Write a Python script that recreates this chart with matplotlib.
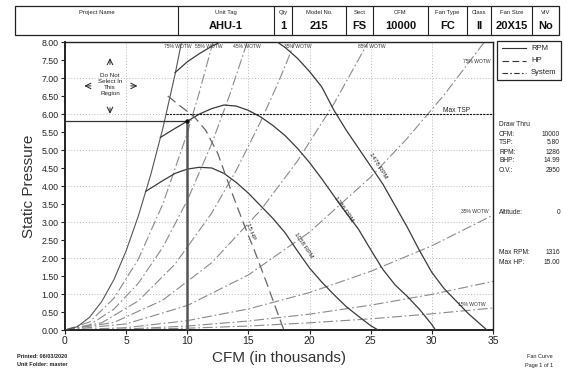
import matplotlib
matplotlib.use('Agg')
import matplotlib.pyplot as plt
from matplotlib.patches import Rectangle

plt.rcParams['font.family'] = ['Liberation Sans', 'DejaVu Sans']

# ---------------- data ----------------
x_ticks = [0, 5, 10, 15, 20, 25, 30, 35]
y_ticks = [0, 0.5, 1, 1.5, 2, 2.5, 3, 3.5, 4, 4.5, 5, 5.5, 6, 6.5, 7, 7.5, 8]
grid_x = [5, 10, 15, 20, 25, 30]
grid_y = [1, 2, 3, 4, 5, 6, 7]

rpm_1058_x = [6.6, 8, 9, 10, 11, 12, 13, 14, 15, 16, 17, 18, 19, 20, 21, 22, 23, 24, 25, 25.6]
rpm_1058_y = [3.85, 4.15, 4.35, 4.47, 4.52, 4.5, 4.35, 4.1, 3.8, 3.45, 3.1, 2.7, 2.2, 1.72, 1.33, 0.98, 0.65, 0.38, 0.12, 0]

rpm_1286_x = [7.8, 9, 10, 11, 12, 13, 14, 15, 16, 17, 18, 19, 20, 21, 22, 23, 24, 25, 26, 27, 28, 29, 30, 30.3]
rpm_1286_y = [5.35, 5.6, 5.8, 6.0, 6.15, 6.25, 6.22, 6.1, 5.92, 5.68, 5.4, 5.05, 4.65, 4.2, 3.72, 3.25, 2.8, 2.23, 1.68, 1.25, 0.93, 0.57, 0.15, 0]

rpm_1478_x = [9.0, 10, 11, 12, 13, 14, 15, 16, 17, 18, 19, 20, 21, 22, 23, 24, 25, 26, 27, 28, 29, 30, 31, 32, 33, 34, 34.5]
rpm_1478_y = [7.15, 7.45, 7.68, 7.88, 8.05, 8.2, 8.25, 8.2, 8.08, 7.85, 7.55, 7.18, 6.75, 6.1, 5.55, 5.05, 4.55, 4.05, 3.45, 2.85, 2.2, 1.6, 1.15, 0.8, 0.45, 0.15, 0]

hp_15_x = [8.4, 9.5, 10.5, 11.5, 12.5, 13.5, 14.5, 15.5, 16.5, 17.3, 17.9]
hp_15_y = [6.5, 6.2, 5.95, 5.55, 4.9, 3.95, 3.05, 2.2, 1.3, 0.55, 0]

surge_x = [0, 1, 2, 3, 4, 5, 6, 7, 8, 9, 9.5]
surge_y = [0, 0.09, 0.35, 0.79, 1.4, 2.2, 3.17, 4.3, 5.6, 7.1, 7.95]

sysA_x = [0, 2, 4, 6, 8, 10, 11, 12.1]
sysA_y = [0, 0.22, 0.88, 1.97, 3.5, 5.47, 6.62, 8.0]
sysB_x = [0, 2, 4, 6, 8, 10, 12, 13.5, 14.9]
sysB_y = [0, 0.14, 0.58, 1.3, 2.3, 3.6, 5.18, 6.56, 8.0]
sysC_x = [0, 3, 6, 9, 12, 14, 16, 17.5, 18.8]
sysC_y = [0, 0.2, 0.81, 1.83, 3.25, 4.43, 5.79, 6.92, 8.0]
sysD_x = [0, 4, 8, 12, 16, 19, 22, 24.8]
sysD_y = [0, 0.21, 0.83, 1.87, 3.33, 4.69, 6.29, 8.0]
sysE_x = [0, 5, 10, 15, 20, 25, 28, 31, 34.3]
sysE_y = [0, 0.17, 0.68, 1.53, 2.72, 4.25, 5.33, 6.53, 8.0]
sysF_x = [0, 5, 10, 15, 20, 25, 30, 35]
sysF_y = [0, 0.065, 0.26, 0.585, 1.04, 1.63, 2.34, 3.19]
sysG_x = [0, 5, 10, 15, 20, 25, 30, 35]
sysG_y = [0, 0.028, 0.11, 0.25, 0.44, 0.69, 0.99, 1.35]
sysH_x = [0, 5, 10, 15, 20, 25, 30, 35]
sysH_y = [0, 0.0125, 0.05, 0.11, 0.2, 0.31, 0.45, 0.61]

sys_top_labels = ["75% WOTW", "55% WOTW", "45% WOTW", "35% WOTW", "85% WOTW"]
sys_top_label_x = [9.2, 11.8, 14.9, 19.0, 25.1]
sys_side_labels = ["75% WOTW", "35% WOTW", "15% WOTW"]
sys_side_label_x = [33.7, 33.5, 33.3]
sys_side_label_y = [7.45, 3.3, 0.72]

max_tsp = 6.0
op_cfm = 10
op_sp = 5.8

header_labels = ["Project Name", "Unit Tag", "Qty", "Model No.", "Sect", "CFM", "Fan Type", "Class", "Fan Size", "VIV"]
header_values = ["", "AHU-1", "1", "215", "FS", "10000", "FC", "II", "20X15", "No"]

info_labels = ["CFM:", "TSP:", "RPM:", "BHP:", "O.V.:"]
info_values = ["10000", "5.80", "1286", "14.99", "2950"]
altitude_value = "0"
max_labels = ["Max RPM:", "Max HP:"]
max_values = ["1316", "15.00"]

# ---------------- figure ----------------
W, H = 565, 370
fig = plt.figure(figsize=(W / 100, H / 100), dpi=100)
fig.patch.set_facecolor('white')


def fx(px):
    return px / W


def fy(py):
    return 1 - py / H


ax = fig.add_axes([fx(65), fy(330), fx(493) - fx(65), fy(42) - fy(330)])
ax.set_xlim(0, 35)
ax.set_ylim(0, 8)
ax.set_xticks(x_ticks)
ax.set_xticklabels([str(v) for v in x_ticks], fontsize=7.5, color='#222222')
ax.set_yticks(y_ticks)
ax.set_yticklabels(["%.2f" % v for v in y_ticks], fontsize=6.3, color='#222222')
ax.tick_params(axis='both', length=3, width=0.8, pad=1.5, colors='#222222')
for s in ax.spines.values():
    s.set_linewidth(1.0)
    s.set_color('#222222')
ax.spines['left'].set_linewidth(1.4)
ax.spines['bottom'].set_linewidth(1.4)

for gx in grid_x:
    ax.axvline(gx, color='#b8b8b8', lw=0.7, ls=(0, (1, 2)), zorder=0)
for gy in grid_y:
    ax.axhline(gy, color='#b8b8b8', lw=0.7, ls=(0, (1, 2)), zorder=0)

sys_color = '#8a8a8a'
sys_ls = (0, (9, 2.5, 1.5, 2.5))
for sx, sy in [(sysA_x, sysA_y), (sysB_x, sysB_y), (sysC_x, sysC_y), (sysD_x, sysD_y),
               (sysE_x, sysE_y), (sysF_x, sysF_y), (sysG_x, sysG_y), (sysH_x, sysH_y)]:
    ax.plot(sx, sy, color=sys_color, lw=0.8, ls=sys_ls, zorder=2)

curve_color = '#3a3a3a'
ax.plot(surge_x, surge_y, color='#555555', lw=0.8, zorder=3)
ax.plot(rpm_1058_x, rpm_1058_y, color=curve_color, lw=0.9, zorder=3)
ax.plot(rpm_1286_x, rpm_1286_y, color=curve_color, lw=0.9, zorder=3)
ax.plot(rpm_1478_x, rpm_1478_y, color=curve_color, lw=0.9, zorder=3)
ax.plot(hp_15_x, hp_15_y, color='#666666', lw=0.9, ls=(0, (8, 4)), zorder=3)

# max TSP line
ax.plot([8.26, 35], [max_tsp, max_tsp], color='#111111', lw=0.8, ls=(0, (2, 1)), zorder=4)
ax.text(30.9, 6.06, "Max TSP", fontsize=4.8, color='#222222')

# operating point
ax.plot([0, op_cfm], [op_sp, op_sp], color='#333333', lw=0.9, zorder=5)
ax.plot([op_cfm, op_cfm], [0, op_sp], color='#555555', lw=1.8, zorder=5)
ax.plot([op_cfm], [op_sp], marker='o', ms=2.2, color='#111111', zorder=6)

# curve labels
ax.text(19.5, 2.35, "1058 RPM", fontsize=4.5, rotation=-56, ha='center', va='center', color='#222222')
ax.text(22.8, 3.35, "1286 RPM", fontsize=4.5, rotation=-55, ha='center', va='center', color='#222222')
ax.text(25.6, 4.55, "1478 RPM", fontsize=4.5, rotation=-58, ha='center', va='center', color='#222222')
ax.text(15.2, 2.75, "15 HP", fontsize=4.5, rotation=-68, ha='center', va='center', color='#222222')

for lab, lx in zip(sys_top_labels, sys_top_label_x):
    ax.text(lx, 7.88, lab, fontsize=3.6, ha='center', va='center', color='#333333')
for lab, lx, ly in zip(sys_side_labels, sys_side_label_x, sys_side_label_y):
    ax.text(lx, ly, lab, fontsize=3.6, ha='center', va='center', color='#333333')

# do not select region
ax.text(3.68, 6.82, "Do Not\nSelect In\nThis\nRegion", fontsize=4.5, ha='center', va='center',
        linespacing=1.25, color='#222222')
arrow_kw = dict(arrowstyle='->', color='#222222', lw=0.7)
ax.annotate("", xy=(3.68, 7.63), xytext=(3.68, 7.30), arrowprops=arrow_kw)
ax.annotate("", xy=(3.68, 5.93), xytext=(3.68, 6.25), arrowprops=arrow_kw)
ax.annotate("", xy=(6.15, 6.78), xytext=(5.15, 6.78), arrowprops=arrow_kw)
ax.annotate("", xy=(1.35, 6.78), xytext=(2.35, 6.78), arrowprops=arrow_kw)

ax.set_xlabel("CFM (in thousands)", fontsize=11, color='#333333', labelpad=3.5)
ax.set_ylabel("Static Pressure", fontsize=11, color='#333333', labelpad=4)

# ---------------- overlay (header, legend, info) ----------------
ov = fig.add_axes([0, 0, 1, 1], zorder=10)
ov.set_xlim(0, W)
ov.set_ylim(H, 0)
ov.axis('off')
ov.patch.set_alpha(0)

col_edges = [15, 178, 274, 292, 346, 373, 428, 467, 491, 532, 559]
ov.add_patch(Rectangle((col_edges[0], 6), col_edges[-1] - col_edges[0], 29, fill=False, lw=0.9, ec='#222222'))
for e in col_edges[1:-1]:
    ov.plot([e, e], [6, 35], color='#222222', lw=0.8)
for i, (lab, val) in enumerate(zip(header_labels, header_values)):
    cx = (col_edges[i] + col_edges[i + 1]) / 2
    ov.text(cx, 12.5, lab, fontsize=4.2, ha='center', va='center', color='#222222')
    if val:
        ov.text(cx, 26, val, fontsize=8, ha='center', va='center', fontweight='bold', color='#111111')

# legend
ov.add_patch(Rectangle((497, 41), 64, 39, fill=False, lw=0.9, ec='#222222'))
leg_items = [("RPM", '-'), ("HP", (0, (6, 3))), ("System", (0, (5, 2, 1.5, 2)))]
for i, (lab, ls) in enumerate(leg_items):
    yy = 48 + i * 12.5
    ov.plot([502, 526], [yy, yy], color='#333333', lw=0.8, ls=ls)
    ov.text(531, yy, lab, fontsize=5.5, va='center', color='#222222')

# info panel
ov.text(499, 125, "Draw Thru", fontsize=4.8, va='center', color='#222222')
for i, (lab, val) in enumerate(zip(info_labels, info_values)):
    yy = 134 + i * 9
    ov.text(499, yy, lab, fontsize=4.8, va='center', color='#222222')
    ov.text(560, yy, val, fontsize=4.8, va='center', ha='right', color='#222222')
ov.text(499, 212, "Altitude:", fontsize=4.8, va='center', color='#222222')
ov.text(560, 212, altitude_value, fontsize=4.8, va='center', ha='right', color='#222222')
for i, (lab, val) in enumerate(zip(max_labels, max_values)):
    yy = 253 + i * 9
    ov.text(499, yy, lab, fontsize=4.8, va='center', color='#222222')
    ov.text(560, yy, val, fontsize=4.8, va='center', ha='right', color='#222222')

# footer
ov.text(17, 357, "Printed: 06/03/2020", fontsize=4.0, va='center', color='#222222', fontweight='bold')
ov.text(17, 365, "Unit Folder: master", fontsize=4.0, va='center', color='#222222', fontweight='bold')
ov.text(553, 357, "Fan Curve", fontsize=4.0, va='center', ha='right', color='#222222')
ov.text(553, 365, "Page 1 of 1", fontsize=4.0, va='center', ha='right', color='#222222')

fig.savefig("out.png", dpi=100, facecolor='white')
